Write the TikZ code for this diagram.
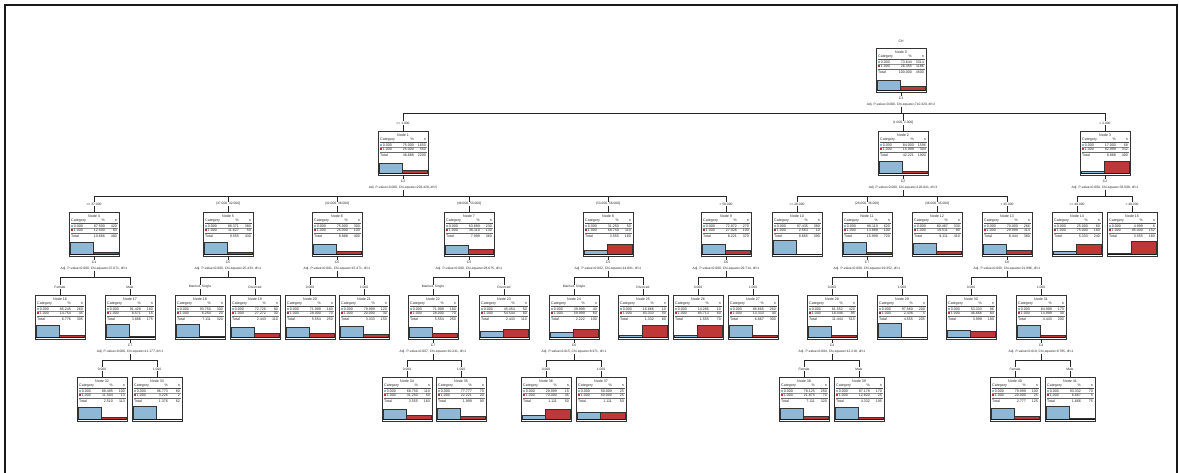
\documentclass[tikz,border=0pt]{standalone}
\usepackage{fontspec}
\setmainfont{Liberation Sans}
\usetikzlibrary{calc}

\definecolor{barblue}{RGB}{142,184,214}
\definecolor{barred}{RGB}{190,56,56}

\pgfkeys{/pgf/number format/assume math mode=true}

\tikzset{
  nodebox/.style={draw=black!80, line width=0.9pt, fill=white,
    minimum width=50pt, minimum height=44pt, inner sep=0pt, outer sep=0pt},
  cell/.style={font=\fontsize{3.6}{4.2}\selectfont, inner sep=0pt, text=black!85},
  varlab/.style={font=\fontsize{3.4}{3.8}\selectfont, inner sep=0.5pt, text=black!85},
  statlab/.style={font=\fontsize{3.3}{3.7}\selectfont, inner sep=0.5pt, text=black!85},
  branchlab/.style={font=\fontsize{3.3}{3.7}\selectfont, fill=white, inner sep=0.6pt, text=black!85},
  link/.style={draw=black!85, line width=0.8pt},
  rule/.style={draw=black!45, line width=0.3pt},
}

% One tree node: name, centre x, top y, node number, n of category 0, n of category 1
\newcommand\spssnode[6]{%
  \pgfmathsetmacro\tnTot{int(#5+#6)}%
  \pgfmathsetmacro\tnPa{100*(#5/\tnTot)}%
  \pgfmathsetmacro\tnPb{100*(#6/\tnTot)}%
  \pgfmathsetmacro\tnPt{100*(\tnTot/4500)}%
  \node[nodebox] (#1) at (#2,#3+22) {};
  \begin{scope}[shift={(#1.north west)}]
    \node[cell,anchor=base] at (25,5.2) {Node #4};
    \node[cell,anchor=base west] at (2,9.8) {Category};
    \node[cell,anchor=base east] at (36,9.8) {\%};
    \node[cell,anchor=base east] at (48,9.8) {n};
    \draw[black!70,line width=0.4pt] (1.5,11) -- (48.5,11);
    \fill[barblue] (2,12.6) rectangle (3.7,14.6);
    \node[cell,anchor=base west] at (4.6,15) {0.000};
    \node[cell,anchor=base east] at (36,15) {\pgfmathprintnumber[fixed,fixed zerofill,precision=3]{\tnPa}};
    \node[cell,anchor=base east] at (48,15) {#5};
    \draw[rule] (1.5,16.3) -- (48.5,16.3);
    \fill[barred] (2,17.1) rectangle (3.7,19.1);
    \node[cell,anchor=base west] at (4.6,19.5) {1.000};
    \node[cell,anchor=base east] at (36,19.5) {\pgfmathprintnumber[fixed,fixed zerofill,precision=3]{\tnPb}};
    \node[cell,anchor=base east] at (48,19.5) {#6};
    \draw[black!60,line width=0.4pt] (1.5,21) -- (48.5,21);
    \node[cell,anchor=base west] at (2,25) {Total};
    \node[cell,anchor=base east] at (36,25) {\pgfmathprintnumber[fixed,fixed zerofill,precision=3]{\tnPt}};
    \node[cell,anchor=base east] at (48,25) {\tnTot};
    \fill[barblue] (1.2,42.3) rectangle (24.5,{42.3-0.14*\tnPa});
    \draw[black!80,line width=0.4pt] (1.2,42.3) rectangle (24.5,{42.3-0.14*\tnPa});
    \fill[barred] (24.5,42.3) rectangle (48.8,{42.3-0.14*\tnPb});
    \draw[black!80,line width=0.4pt] (24.5,42.3) rectangle (48.8,{42.3-0.14*\tnPb});
    \draw[black!90,line width=1pt] (0.8,42.7) -- (49.2,42.7);
  \end{scope}
}

% Split variable and statistics under a parent node, with the stem down to its bar
\newcommand\spsssplit[3]{%
  \node[varlab] (#1v) at ($(#1.south)+(0,6)$) {#2};
  \node[statlab] (#1s) at ($(#1.south)+(0,12.5)$) {#3};
  \coordinate (#1b) at ($(#1.south)+(0,21.5)$);
  \draw[link] (#1.south) -- (#1v.north);
  \draw[link] (#1s.south) -- (#1b);
}

% Branch from a parent's bar to a child node, with the category label
\newcommand\spssbranch[3]{%
  \draw[link] (#1b) -| (#2.north);
  \node[branchlab] (#2l) at ($(#2.north)+(0,-8)$) {#3};
}

\begin{document}
\begin{tikzpicture}[x=1pt,y=-1pt]
\useasboundingbox (0,0) rectangle (1179,472);
\fill[white] (0,0) rectangle (1179,472);
\draw[black!90,line width=2pt] (5.3,480) -- (5.3,5) -- (1176.5,5) -- (1176.5,480);

% dependent variable
\node[varlab] (dep) at (901,41) {CH};

% level 0
\spssnode{n0}{901}{48}{0}{3314}{1186}
% level 1
\spssnode{n1}{403}{131}{1}{1650}{550}
\spssnode{n2}{903}{131}{2}{1596}{304}
\spssnode{n3}{1105}{131}{3}{68}{332}
% level 2
\spssnode{n4}{94}{212}{4}{420}{60}
\spssnode{n5}{228}{212}{5}{380}{50}
\spssnode{n6}{337}{212}{6}{300}{100}
\spssnode{n7}{469}{212}{7}{230}{130}
\spssnode{n8}{608}{212}{8}{50}{110}
\spssnode{n9}{726}{212}{9}{270}{100}
\spssnode{n10}{797}{212}{10}{380}{10}
\spssnode{n11}{867}{212}{11}{620}{100}
\spssnode{n12}{937}{212}{12}{330}{80}
\spssnode{n13}{1007}{212}{13}{266}{114}
\spssnode{n14}{1077}{212}{14}{60}{180}
\spssnode{n15}{1132}{212}{15}{8}{152}
% level 3
\spssnode{n16}{60}{295}{16}{260}{45}
\spssnode{n17}{130}{295}{17}{160}{15}
\spssnode{n18}{200}{295}{18}{300}{20}
\spssnode{n19}{255}{295}{19}{80}{30}
\spssnode{n20}{310}{295}{20}{180}{70}
\spssnode{n21}{364}{295}{21}{120}{30}
\spssnode{n22}{433}{295}{22}{180}{70}
\spssnode{n23}{504}{295}{23}{50}{60}
\spssnode{n24}{574}{295}{24}{40}{60}
\spssnode{n25}{643}{295}{25}{10}{50}
\spssnode{n26}{698}{295}{26}{10}{60}
\spssnode{n27}{753}{295}{27}{260}{40}
\spssnode{n28}{832}{295}{28}{420}{95}
\spssnode{n29}{902}{295}{29}{200}{5}
\spssnode{n30}{971}{295}{30}{96}{84}
\spssnode{n31}{1041}{295}{31}{170}{30}
% level 4
\spssnode{n32}{102}{377}{32}{100}{13}
\spssnode{n33}{157}{377}{33}{60}{2}
\spssnode{n34}{407}{377}{34}{110}{50}
\spssnode{n35}{461}{377}{35}{70}{20}
\spssnode{n36}{546}{377}{36}{15}{35}
\spssnode{n37}{601}{377}{37}{25}{25}
\spssnode{n38}{804}{377}{38}{250}{70}
\spssnode{n39}{859}{377}{39}{170}{25}
\spssnode{n40}{1015}{377}{40}{100}{25}
\spssnode{n41}{1070}{377}{41}{70}{5}

% splits
\spsssplit{n0}{C3}{Adj. P-value=0.000, Chi-square=710.320, df=2}
\spssbranch{n0}{n1}{<= 1.000}
\spssbranch{n0}{n2}{(1.000, 2.000]}
\spssbranch{n0}{n3}{> 2.000}

\spsssplit{n1}{C2}{Adj. P-value=0.000, Chi-square=203.428, df=5}
\spssbranch{n1}{n4}{<= 37.000}
\spssbranch{n1}{n5}{(37.000, 42.000]}
\spssbranch{n1}{n6}{(42.000, 48.000]}
\spssbranch{n1}{n7}{(48.000, 53.000]}
\spssbranch{n1}{n8}{(53.000, 58.000]}
\spssbranch{n1}{n9}{> 58.000}

\spsssplit{n2}{C2}{Adj. P-value=0.000, Chi-square=126.041, df=3}
\spssbranch{n2}{n10}{<= 28.000}
\spssbranch{n2}{n11}{(28.000, 36.000]}
\spssbranch{n2}{n12}{(36.000, 45.000]}
\spssbranch{n2}{n13}{> 45.000}

\spsssplit{n3}{C2}{Adj. P-value=0.000, Chi-square=33.508, df=1}
\spssbranch{n3}{n14}{<= 49.000}
\spssbranch{n3}{n15}{> 49.000}

\spsssplit{n4}{C4}{Adj. P-value=0.000, Chi-square=37.071, df=1}
\spssbranch{n4}{n16}{Female}
\spssbranch{n4}{n17}{Male}

\spsssplit{n5}{C5}{Adj. P-value=0.000, Chi-square=25.433, df=1}
\spssbranch{n5}{n18}{Married, Single}
\spssbranch{n5}{n19}{Divorced}

\spsssplit{n6}{C6}{Adj. P-value=0.001, Chi-square=15.471, df=1}
\spssbranch{n6}{n20}{0.000}
\spssbranch{n6}{n21}{1.000}

\spsssplit{n7}{C5}{Adj. P-value=0.000, Chi-square=28.675, df=1}
\spssbranch{n7}{n22}{Married, Single}
\spssbranch{n7}{n23}{Divorced}

\spsssplit{n8}{C5}{Adj. P-value=0.002, Chi-square=14.801, df=1}
\spssbranch{n8}{n24}{Married, Single}
\spssbranch{n8}{n25}{Divorced}

\spsssplit{n9}{C6}{Adj. P-value=0.000, Chi-square=29.714, df=1}
\spssbranch{n9}{n26}{0.000}
\spssbranch{n9}{n27}{1.000}

\spsssplit{n11}{C7}{Adj. P-value=0.000, Chi-square=19.352, df=1}
\spssbranch{n11}{n28}{0.000}
\spssbranch{n11}{n29}{1.000}

\spsssplit{n13}{C6}{Adj. P-value=0.000, Chi-square=21.896, df=1}
\spssbranch{n13}{n30}{0.000}
\spssbranch{n13}{n31}{1.000}

\spsssplit{n17}{C7}{Adj. P-value=0.006, Chi-square=11.177, df=1}
\spssbranch{n17}{n32}{0.000}
\spssbranch{n17}{n33}{1.000}

\spsssplit{n22}{C7}{Adj. P-value=0.007, Chi-square=10.241, df=1}
\spssbranch{n22}{n34}{0.000}
\spssbranch{n22}{n35}{1.000}

\spsssplit{n24}{C6}{Adj. P-value=0.015, Chi-square=8.971, df=1}
\spssbranch{n24}{n36}{0.000}
\spssbranch{n24}{n37}{1.000}

\spsssplit{n28}{C4}{Adj. P-value=0.004, Chi-square=12.218, df=1}
\spssbranch{n28}{n38}{Female}
\spssbranch{n28}{n39}{Male}

\spsssplit{n31}{C4}{Adj. P-value=0.010, Chi-square=9.785, df=1}
\spssbranch{n31}{n40}{Female}
\spssbranch{n31}{n41}{Male}
\end{tikzpicture}
\end{document}
